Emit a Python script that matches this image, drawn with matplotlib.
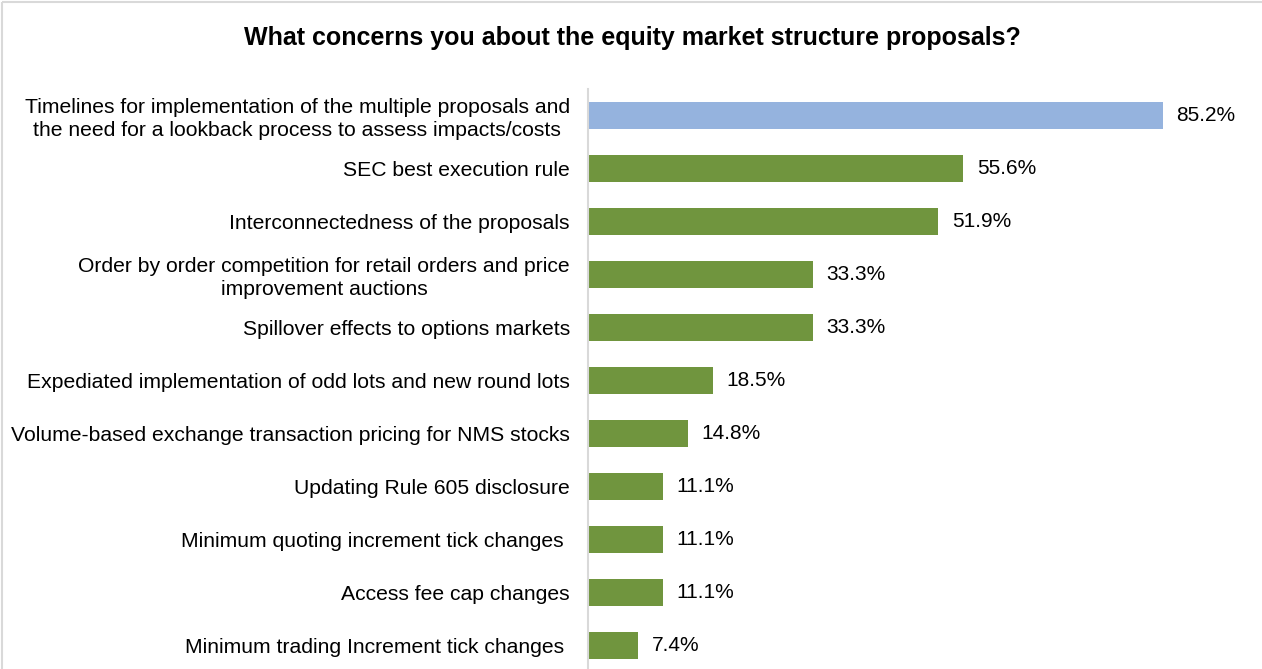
import matplotlib
matplotlib.use("Agg")
import matplotlib.pyplot as plt
from matplotlib.lines import Line2D

plt.rcParams['font.family'] = ['Liberation Sans', 'DejaVu Sans']

categories = [
    "Timelines for implementation of the multiple proposals and\nthe need for a lookback process to assess impacts/costs",
    "SEC best execution rule",
    "Interconnectedness of the proposals",
    "Order by order competition for retail orders and price\nimprovement auctions",
    "Spillover effects to options markets",
    "Expediated implementation of odd lots and new round lots",
    "Volume-based exchange transaction pricing for NMS stocks",
    "Updating Rule 605 disclosure",
    "Minimum quoting increment tick changes ",
    "Access fee cap changes",
    "Minimum trading Increment tick changes ",
]
values = [85.2, 55.6, 51.9, 33.3, 33.3, 18.5, 14.8, 11.1, 11.1, 11.1, 7.4]
title = "What concerns you about the equity market structure proposals?"

W, H = 1262, 669
fig = plt.figure(figsize=(W / 100, H / 100), dpi=100)

# outer chart frame (top and left edges)
frame_kw = dict(transform=fig.transFigure, color='#d9d9d9', linewidth=1.5,
                solid_capstyle='butt')
fig.add_artist(Line2D([2 / W, 1.2], [1 - 2 / H, 1 - 2 / H], **frame_kw))
fig.add_artist(Line2D([2 / W, 2 / W], [-0.2, 1 - 2 / H], **frame_kw))

ax_left = 588 / W
ax_top = 1 - 89 / H
ax = fig.add_axes([ax_left, 0, 1 - ax_left, ax_top])

colors = ['#95b3de'] + ['#70953e'] * (len(values) - 1)
ypos = list(range(len(values)))
ax.barh(ypos, values, height=0.51, color=colors)

ax.set_xlim(0, (W - 588) / 6.749)
ax.set_ylim(10.45, -0.5)

for y, v in zip(ypos, values):
    ax.text(v + 2.0, y, f"{v:.1f}%", va='center', ha='left', fontsize=15, color='#000000')

ax.set_yticks(ypos)
ax.set_yticklabels(categories, fontsize=15.2, color='#000000', linespacing=1.25)
for lbl in ax.get_yticklabels():
    lbl.set_multialignment('center')
ax.tick_params(axis='y', length=0, pad=13)
ax.set_xticks([])

for s in ['top', 'right', 'bottom']:
    ax.spines[s].set_visible(False)
ax.spines['left'].set_color('#d9d9d9')
ax.spines['left'].set_linewidth(1.5)

fig.text(632 / W, 1 - 38 / H, title, ha='center', va='center', fontsize=18,
         fontweight='bold', color='#000000')

fig.savefig("out.png", dpi=100)
